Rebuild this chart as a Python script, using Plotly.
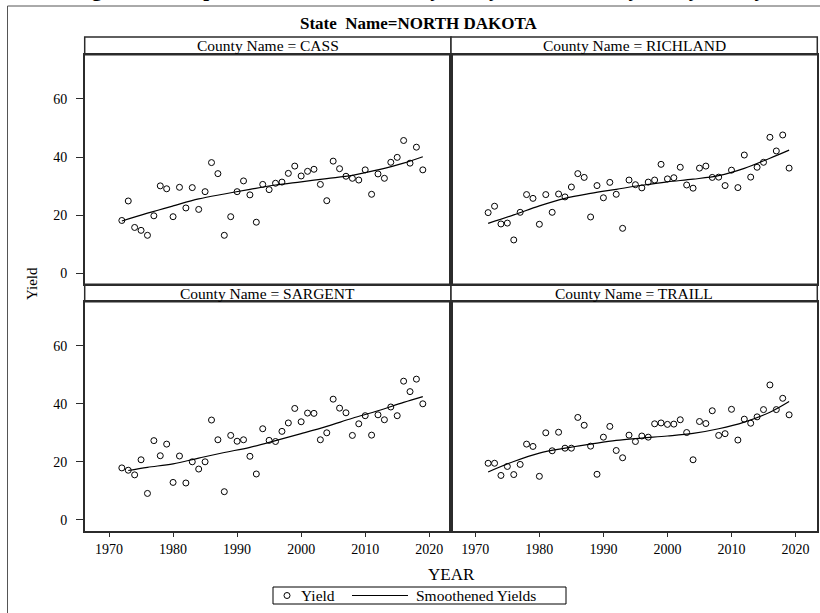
import plotly.graph_objects as go

# Soybean yields (bu/acre) by county, North Dakota, 1972-2019
years = list(range(1972, 2020))

cass_yield = [18.2, 24.9, 15.8, 14.8, 13.1, 19.8, 30.1, 29.1, 19.5, 29.6,
              22.5, 29.5, 22.0, 28.1, 38.1, 34.3, 13.1, 19.5, 28.1, 31.8,
              27.0, 17.6, 30.6, 28.8, 31.0, 31.4, 34.4, 36.9, 33.5, 35.1,
              35.8, 30.6, 25.0, 38.6, 36.0, 33.4, 32.7, 32.1, 35.6, 27.2,
              34.2, 32.7, 38.2, 39.9, 45.7, 37.9, 43.4, 35.6]
richland_yield = [20.9, 23.1, 17.0, 17.3, 11.5, 21.0, 27.1, 25.8, 16.9, 27.1,
                  21.0, 27.3, 26.3, 29.7, 34.3, 33.0, 19.4, 30.2, 26.0, 31.3,
                  27.2, 15.5, 32.1, 30.5, 29.4, 31.4, 32.1, 37.5, 32.5, 32.9,
                  36.5, 30.4, 29.3, 36.2, 36.9, 33.0, 33.1, 30.2, 35.5, 29.5,
                  40.7, 33.1, 36.5, 38.2, 46.8, 42.1, 47.6, 36.2]
sargent_yield = [17.9, 17.1, 15.5, 20.7, 9.1, 27.3, 22.1, 26.1, 12.9, 22.0,
                 12.7, 20.0, 17.5, 20.0, 34.4, 27.6, 9.7, 29.1, 27.1, 27.6,
                 21.9, 15.8, 31.4, 27.4, 27.0, 30.5, 33.4, 38.4, 33.8, 36.8,
                 36.7, 27.6, 30.0, 41.6, 38.5, 36.9, 29.1, 33.1, 35.9, 29.2,
                 36.2, 34.5, 38.9, 35.9, 47.8, 44.2, 48.5, 40.0]
traill_yield = [19.5, 19.5, 15.3, 18.4, 15.6, 19.1, 26.1, 25.3, 15.0, 30.0,
                23.8, 30.2, 24.7, 24.7, 35.3, 32.6, 25.4, 15.7, 28.5, 32.2,
                23.9, 21.4, 29.2, 27.0, 28.9, 28.5, 33.1, 33.4, 32.9, 33.0,
                34.5, 30.1, 20.7, 33.9, 33.2, 37.6, 29.1, 29.7, 38.1, 27.5,
                34.7, 33.3, 35.5, 38.0, 46.5, 38.0, 41.9, 36.2]

# Smoothed (loess) yield curves
smooth_years = [1972, 1976, 1980, 1984, 1988, 1992, 1996, 2000, 2004, 2008, 2012, 2016, 2019]
cass_smooth = [18.0, 20.7, 23.2, 25.6, 27.3, 28.9, 30.4, 31.5, 32.6, 33.7, 35.6, 37.9, 40.1]
richland_smooth = [17.2, 20.1, 23.2, 25.8, 27.5, 28.9, 30.3, 31.5, 32.4, 33.6, 36.1, 39.6, 42.4]
sargent_smooth_years = [1973, 1976, 1980, 1984, 1988, 1992, 1996, 2000, 2004, 2008, 2012, 2016, 2019]
sargent_smooth = [17.0, 18.1, 19.3, 21.3, 23.2, 25.0, 27.3, 29.7, 32.2, 35.0, 37.6, 40.5, 42.5]
traill_smooth = [16.5, 20.1, 23.0, 24.7, 26.1, 27.4, 28.2, 28.9, 29.8, 31.4, 33.7, 37.1, 40.8]

counties = ["CASS", "RICHLAND", "SARGENT", "TRAILL"]
yield_series = [cass_yield, richland_yield, sargent_yield, traill_yield]
smooth_x = [smooth_years, smooth_years, sargent_smooth_years, smooth_years]
smooth_series = [cass_smooth, richland_smooth, sargent_smooth, traill_smooth]

x_ticks = [1970, 1980, 1990, 2000, 2010, 2020]
y_ticks = [0, 20, 40, 60]

W, H = 820, 613
SERIF = "Liberation Serif, Times New Roman, serif"
FRAME = "#2b2b2b"


def px(x):
    return x / W


def py(y):
    return 1 - y / H


# panel geometry (pixels)
col_x = [(84.7, 451.0), (451.0, 817.3)]
row_plot = [(54.7, 284.3), (301.7, 530.7)]
row_head = [(37.0, 54.7), (284.3, 301.7)]

fig = go.Figure()

for i, name in enumerate(counties):
    r, c = divmod(i, 2)
    ax = "" if i == 0 else str(i + 1)
    fig.add_trace(go.Scatter(
        x=years, y=yield_series[i], mode="markers", name="Yield",
        marker=dict(symbol="circle-open", size=6, color="black", line=dict(width=1)),
        xaxis="x" + ax, yaxis="y" + ax, showlegend=False,
    ))
    fig.add_trace(go.Scatter(
        x=smooth_x[i], y=smooth_series[i], mode="lines", name="Smoothened Yields",
        line=dict(color="black", width=1.2, shape="spline", smoothing=1.0),
        xaxis="x" + ax, yaxis="y" + ax, showlegend=False,
    ))

    x0, x1 = col_x[c]
    y0, y1 = row_plot[r]
    xa = dict(
        domain=[px(x0), px(x1)], range=[1966.2, 2023.4], anchor="y" + ax,
        showgrid=False, zeroline=False, showline=True, mirror=True,
        linecolor=FRAME, linewidth=1.5,
        tickvals=x_ticks, ticks="outside" if r == 1 else "", ticklen=5,
        tickcolor=FRAME, showticklabels=(r == 1),
        tickfont=dict(family=SERIF, size=14, color="black"),
    )
    ya = dict(
        domain=[py(y1), py(y0)], range=[-3.75, 75.2], anchor="x" + ax,
        showgrid=False, zeroline=False, showline=True, mirror=True,
        linecolor=FRAME, linewidth=1.5,
        tickvals=y_ticks, ticks="outside" if c == 0 else "", ticklen=7,
        tickcolor=FRAME, showticklabels=(c == 0), ticklabelstandoff=6,
        tickfont=dict(family=SERIF, size=14, color="black"),
    )
    fig.update_layout({"xaxis" + ax: xa, "yaxis" + ax: ya})

shapes = []
annotations = []
for i, name in enumerate(counties):
    r, c = divmod(i, 2)
    x0, x1 = col_x[c]
    h0, h1 = row_head[r]
    shapes.append(dict(type="rect", xref="paper", yref="paper",
                       x0=px(x0), x1=px(x1), y0=py(h1), y1=py(h0),
                       line=dict(color=FRAME, width=1.5), fillcolor="white", layer="below"))
    annotations.append(dict(text="County Name = " + name, xref="paper", yref="paper",
                            x=px((x0 + x1) / 2), y=py((h0 + h1) / 2),
                            xanchor="center", yanchor="middle", showarrow=False,
                            font=dict(family=SERIF, size=15.5, color="black")))

# outer frame of the graph
shapes.append(dict(type="rect", xref="paper", yref="paper",
                   x0=px(7.5), x1=px(831), y0=py(625), y1=py(6),
                   line=dict(color="#555555", width=1), layer="below"))

# legend box: open-circle marker key and line key
leg_y = 595.5
shapes += [
    dict(type="rect", xref="paper", yref="paper",
         x0=px(273), x1=px(566), y0=py(604), y1=py(587),
         line=dict(color="black", width=1), fillcolor="white"),
    dict(type="circle", xref="paper", yref="paper",
         x0=px(284), x1=px(290), y0=py(leg_y + 3), y1=py(leg_y - 3),
         line=dict(color="black", width=1)),
    dict(type="line", xref="paper", yref="paper",
         x0=px(352), x1=px(408), y0=py(leg_y), y1=py(leg_y),
         line=dict(color="black", width=1.2)),
]

annotations += [
    dict(text="<b>Figure 6: Comparison of smoothened soybean yields to actual yield by county</b>",
         xref="paper", yref="paper", x=px(419), y=py(3.5), xanchor="center", yanchor="bottom",
         showarrow=False, font=dict(family=SERIF, size=21, color="black")),
    dict(text="<b>State  Name=NORTH DAKOTA</b>", xref="paper", yref="paper",
         x=px(419), y=py(24), xanchor="center", yanchor="middle", showarrow=False,
         font=dict(family=SERIF, size=17, color="black")),
    dict(text="YEAR", xref="paper", yref="paper", x=px(451), y=py(574),
         xanchor="center", yanchor="middle", showarrow=False,
         font=dict(family=SERIF, size=17, color="black")),
    dict(text="Yield", xref="paper", yref="paper", x=px(32), y=py(284),
         xanchor="center", yanchor="middle", showarrow=False, textangle=-90,
         font=dict(family=SERIF, size=15, color="black")),
    dict(text="Yield", xref="paper", yref="paper", x=px(299), y=py(leg_y),
         xanchor="left", yanchor="middle", showarrow=False,
         font=dict(family=SERIF, size=15.5, color="black")),
    dict(text="Smoothened Yields", xref="paper", yref="paper", x=px(414), y=py(leg_y),
         xanchor="left", yanchor="middle", showarrow=False,
         font=dict(family=SERIF, size=15.5, color="black")),
]

fig.update_layout(
    width=W, height=H,
    margin=dict(l=0, r=0, t=0, b=0),
    paper_bgcolor="white", plot_bgcolor="white",
    shapes=shapes, annotations=annotations,
    showlegend=False,
)

fig.write_html("out.html")
